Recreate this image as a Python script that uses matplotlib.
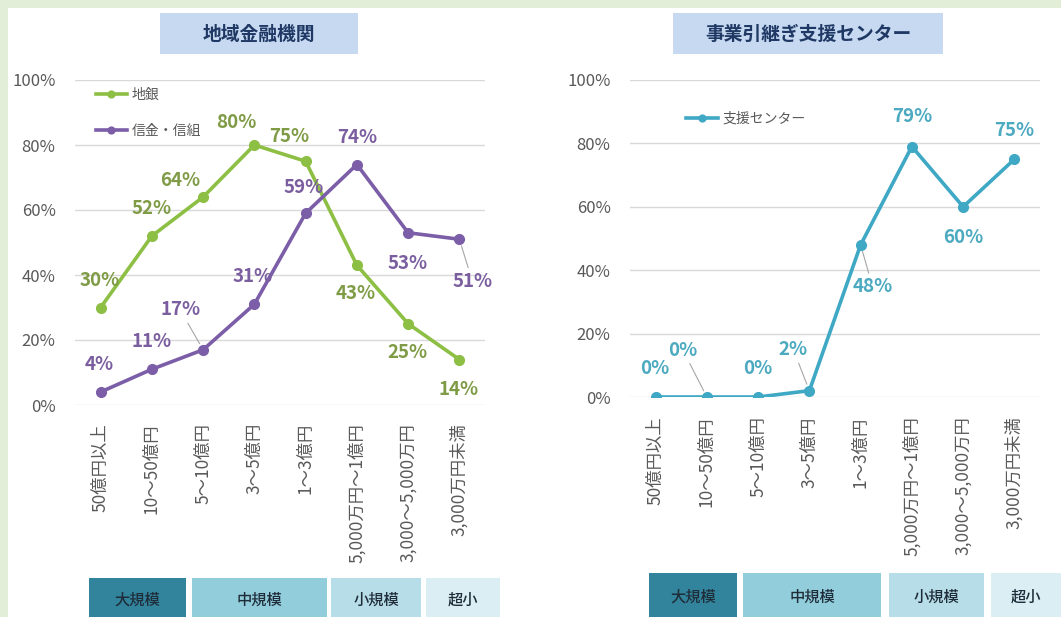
import matplotlib
matplotlib.use('Agg')
from matplotlib import pyplot as plt
from matplotlib.patches import Rectangle
from matplotlib.ticker import MultipleLocator, PercentFormatter

plt.rcParams['font.family'] = ['Noto Sans CJK JP', 'DejaVu Sans']

# データ
categories = ['50億円以上', '10～50億円', '5～10億円', '3～5億円', '1～3億円',
              '5,000万円～1億円', '3,000～5,000万円', '3,000万円未満']
chigin = [30, 52, 64, 80, 75, 43, 25, 14]
shinkin = [4, 11, 17, 31, 59, 74, 53, 51]
center = [0, 0, 0, 2, 48, 79, 60, 75]
size_groups = ['大規模', '中規模', '小規模', '超小']

W, H = 1061, 617
GRAY = '#595959'
GRID = '#d9d9d9'
GROUP_COLORS = ['#31849b', '#92cddc', '#b7dee8', '#daeef3']

fig = plt.figure(figsize=(W / 100, H / 100), dpi=100)
fig.patch.set_facecolor('white')
# 背景の緑枠
fig.add_artist(Rectangle((0, 1 - 8 / H), 1, 8 / H, transform=fig.transFigure,
                         color='#e3eed9', lw=0))
fig.add_artist(Rectangle((0, 0), 8 / W, 1, transform=fig.transFigure,
                         color='#e3eed9', lw=0))


def px_axes(left, right, top, bottom):
    return fig.add_axes([left / W, 1 - bottom / H, (right - left) / W, (bottom - top) / H])


def style_axes(ax):
    ax.set_xlim(-0.5, len(categories) - 0.5)
    ax.set_ylim(0, 100)
    ax.yaxis.set_major_locator(MultipleLocator(20))
    ax.yaxis.set_major_formatter(PercentFormatter(decimals=0))
    ax.grid(axis='y', color=GRID, lw=1)
    ax.set_axisbelow(True)
    for s in ax.spines.values():
        s.set_visible(False)
    ax.tick_params(axis='both', length=0, colors=GRAY, labelsize=12)
    ax.tick_params(axis='y', pad=14)
    ax.set_xticks(range(len(categories)))
    ax.set_xticklabels(categories, rotation=90, fontsize=12.5, color=GRAY)


def title_box(x0, x1, text):
    fig.add_artist(Rectangle((x0 / W, 1 - 54 / H), (x1 - x0) / W, 41 / H,
                             transform=fig.transFigure, color='#c6d9f1', lw=0))
    fig.text((x0 + x1) / 2 / W, 1 - 34 / H, text, ha='center', va='center',
             fontsize=13.5, fontweight='bold', color='#1f3864')


def group_boxes(edges, top):
    for (x0, x1), name, c in zip(edges, size_groups, GROUP_COLORS):
        fig.add_artist(Rectangle((x0 / W, 0), (x1 - x0) / W, (H - top) / H,
                                 transform=fig.transFigure, color=c, lw=0))
        fig.text((x0 + x1) / 2 / W, (H - top) / 2 / H - 0.004, name, ha='center',
                 va='center', fontsize=11, fontweight='medium', color='#1f2d3a')


def labels(ax, values, offsets, color, leaders=()):
    for i, (v, (dx, dy)) in enumerate(zip(values, offsets)):
        kw = {}
        if i in leaders:
            kw['arrowprops'] = dict(arrowstyle='-', color='#a6a6a6', lw=0.8,
                                    shrinkA=1, shrinkB=5)
        ax.annotate(f'{v}%', (i, v), xytext=(dx, dy), textcoords='offset pixels',
                    ha='center', va='center', fontsize=13.5, fontweight='bold',
                    color=color, annotation_clip=False, **kw)


x = list(range(len(categories)))

# 左：地域金融機関
ax1 = px_axes(75, 485, 80, 405)
style_axes(ax1)
ax1.tick_params(axis='x', pad=13)
ax1.plot(x, chigin, color='#8dbf44', lw=2.6, marker='o', ms=7, label='地銀')
ax1.plot(x, shinkin, color='#7b5ea7', lw=2.6, marker='o', ms=7, label='信金・信組')
labels(ax1, chigin, [(-1, 27), (0, 27), (-23, 16), (-18, 23), (-16, 25),
                     (-1, -28), (-1, -29), (-1, -30)], '#7f9b45')
labels(ax1, shinkin, [(-1, 27), (0, 28), (-23, 40), (-2, 28), (-2, 26),
                      (0, 27), (-1, -31), (13, -42)], '#7b5e9f', leaders=(2, 7))
leg = ax1.legend(loc='upper left', bbox_to_anchor=(0.05, 0.975), frameon=False,
                 fontsize=10, handlelength=2.3, handletextpad=0.3, labelspacing=1.55,
                 borderpad=0, borderaxespad=0, markerscale=0.7)
for t in leg.get_texts():
    t.set_color(GRAY)
title_box(160, 358, '地域金融機関')
group_boxes([(89, 186), (192, 327), (331, 421), (426, 500)], 578)

# 右：事業引継ぎ支援センター
ax2 = px_axes(630, 1040, 80, 397)
style_axes(ax2)
ax2.tick_params(axis='x', pad=14)
ax2.plot(x, center, color='#3fa8c5', lw=2.6, marker='o', ms=7, label='支援センター')
labels(ax2, center, [(-1, 29), (-24, 47), (0, 29), (-16, 41), (12, -42),
                     (0, 30), (0, -31), (0, 29)], '#4ba9c0', leaders=(1, 3, 4))
leg = ax2.legend(loc='upper left', bbox_to_anchor=(0.137, 0.90), frameon=False,
                 fontsize=10, handlelength=2.3, handletextpad=0.3,
                 borderpad=0, borderaxespad=0, markerscale=0.7)
for t in leg.get_texts():
    t.set_color(GRAY)
title_box(673, 943, '事業引継ぎ支援センター')
group_boxes([(649, 737), (743, 881), (889, 984), (991, 1061)], 573)

fig.savefig('out.png', dpi=100)
